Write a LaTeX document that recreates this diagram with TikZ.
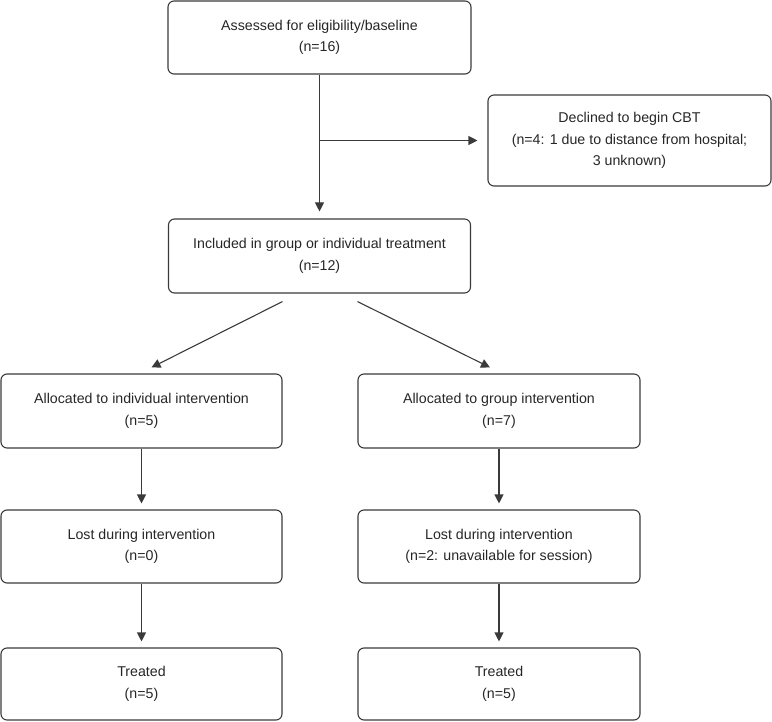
\documentclass[tikz,border=0pt]{standalone}
\usepackage{fontspec}
\setmainfont{Liberation Sans}
\usepackage{xcolor}
\usepackage{tikz}
\usetikzlibrary{arrows.meta, positioning}
\definecolor{linegray}{HTML}{3A3A3A}
\tikzstyle{box} = [draw=linegray, line width=1.1pt, rounded corners=6pt, align=center, inner sep=0pt, minimum height=73pt, font=\fontsize{14.2}{21.5}\selectfont, text=black!85]
\tikzstyle{arrow} = [draw=linegray, line width=1.1pt, -{Triangle[width=9pt,length=9pt]}]

\begin{document}
\begin{tikzpicture}[x=1pt, y=-1pt]
        \useasboundingbox (0,0) rectangle (772,722);
        % Top Layer: Screening
        \node (assess) [box, minimum width=303pt] at (319.5,37.5) {Assessed for eligibility/baseline\\(n=16)};
        \node (declined) [box, minimum width=283pt, minimum height=91pt] at (629.5,140.5) {Declined to begin CBT\\(n=4: 1 due to distance from hospital;\\3 unknown)};
        \node (included) [box, minimum width=302pt, minimum height=74pt] at (319.5,256) {Included in group or individual treatment\\(n=12)};
        \coordinate (branch) at (319.5,140.5);

        % Left Column: Individual
        \node (allocind) [box, minimum width=281pt, minimum height=74pt] at (141.5,411) {Allocated to individual intervention\\(n=5)};
        \node (lostind) [box, minimum width=281pt] at (141.5,546.5) {Lost during intervention\\(n=0)};
        \node (treatind) [box, minimum width=281pt, minimum height=72pt] at (141.5,684) {Treated\\(n=5)};

        % Right Column: Group
        \node (allocgrp) [box, minimum width=282pt, minimum height=74pt] at (499,411) {Allocated to group intervention\\(n=7)};
        \node (lostgrp) [box, minimum width=282pt] at (499,546.5) {Lost during intervention\\(n=2: unavailable for session)};
        \node (treatgrp) [box, minimum width=282pt, minimum height=72pt] at (499,684) {Treated\\(n=5)};

        % Arrows
        \draw[arrow, shorten >=7pt] (assess.south) -- (included.north);
        \draw[arrow, shorten >=10pt] (branch) -- (declined.west);
        \draw[arrow] ([xshift=-37pt,yshift=-8pt]included.south) -- ([xshift=10pt,yshift=6pt]allocind.north);
        \draw[arrow] ([xshift=38pt,yshift=-8pt]included.south) -- ([xshift=-9pt,yshift=6pt]allocgrp.north);
        \draw[arrow, shorten >=6pt] (allocind.south) -- (lostind.north);
        \draw[arrow, shorten >=6pt] (lostind.south) -- (treatind.north);
        \draw[arrow, shorten >=6pt] (allocgrp.south) -- (lostgrp.north);
        \draw[arrow, shorten >=6pt] (lostgrp.south) -- (treatgrp.north);
    \end{tikzpicture}
\end{document}
